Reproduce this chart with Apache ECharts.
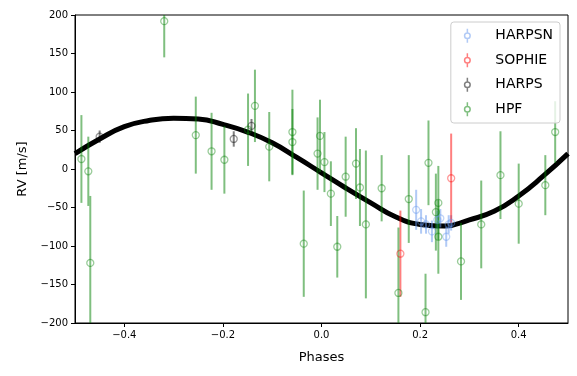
<!DOCTYPE html>
<html>
<head>
<meta charset="utf-8">
<script src="https://cdn.jsdelivr.net/npm/echarts@6/dist/echarts.min.js"></script>
<style>
  html, body { margin: 0; padding: 0; background: #fff; }
  #chart { width: 577px; height: 376px; }
</style>
</head>
<body>
<div id="chart"></div>
<script>
// model curve
const modelPhase = [-0.5, -0.45, -0.4, -0.35, -0.3, -0.25, -0.2, -0.15, -0.1, -0.05, 0, 0.05, 0.1, 0.15, 0.2, 0.25, 0.3, 0.35, 0.4, 0.45, 0.5];
const modelRv = [20, 39, 55, 63, 66, 65, 58, 48, 34, 15, -5, -25, -44, -62, -72, -74, -66, -55, -35, -9, 20];

// HARPSN
const harpsnPhase = [0.192, 0.202, 0.212, 0.224, 0.235, 0.241, 0.253, 0.258, 0.263];
const harpsnRv = [-53, -68, -72, -81, -66, -64, -88, -72, -70];
const harpsnErr = [26, 16, 12, 14, 12, 12, 13, 12, 10];

// SOPHIE
const sophiePhase = [0.16, 0.263];
const sophieRv = [-110, -12];
const sophieErr = [56, 58];

// HARPS
const harpsPhase = [-0.45, -0.178, -0.142];
const harpsRv = [42, 39, 56];
const harpsErr = [8, 10, 9];

// HPF
const hpfPhase = [-0.487, -0.473, -0.469, -0.319, -0.255, -0.223, -0.197, -0.149, -0.135, -0.106,
  -0.059, -0.059, -0.036, -0.008, -0.003, 0.006, 0.019, 0.032, 0.049, 0.07,
  0.078, 0.09, 0.122, 0.156, 0.177, 0.211, 0.217, 0.232, 0.237, 0.237,
  0.283, 0.324, 0.363, 0.4, 0.454, 0.474];
const hpfRv = [13, -3, -122, 192, 44, 23, 12, 51, 82, 29,
  48, 35, -97, 20, 43, 9, -32, -101, -10, 7,
  -24, -72, -25, -161, -39, -186, 8, -56, -44, -88,
  -120, -72, -8, -45, -21, 48];
const hpfErr = [57, 45, 87, 47, 50, 50, 44, 47, 47, 45,
  55, 43, 69, 47, 47, 39, 42, 40, 52, 46,
  50, 96, 43, 85, 57, 50, 55, 50, 48, 48,
  50, 57, 57, 52, 39, 40];

const xTicks = [-0.4, -0.2, 0, 0.2, 0.4];

const instruments = [
  { name: 'HARPSN', color: 'rgba(100,149,237,0.5)', phase: harpsnPhase, rv: harpsnRv, err: harpsnErr },
  { name: 'SOPHIE', color: 'rgba(255,0,0,0.5)', phase: sophiePhase, rv: sophieRv, err: sophieErr },
  { name: 'HARPS', color: 'rgba(0,0,0,0.5)', phase: harpsPhase, rv: harpsRv, err: harpsErr },
  { name: 'HPF', color: 'rgba(0,128,0,0.5)', phase: hpfPhase, rv: hpfRv, err: hpfErr }
];

const legendIcon = 'path://M0,-10 L0,-4 M4,0 A4,4 0 1,1 -4,0 A4,4 0 1,1 4,0 M0,4 L0,10';

const fmt = v => {
  const s = (Math.round(v * 10) / 10).toFixed(1);
  return s.replace('-', '\u2212');
};

const series = [
  {
    name: 'model',
    type: 'line',
    data: modelPhase.map((p, i) => [p, modelRv[i]]),
    smooth: true,
    showSymbol: false,
    lineStyle: { color: '#000', width: 5 },
    z: 1,
    silent: true
  }
];

instruments.forEach(ins => {
  const pts = ins.phase.map((p, i) => [p, ins.rv[i], ins.err[i]]);
  series.push({
    name: ins.name,
    type: 'custom',
    clip: true,
    data: pts,
    encode: { x: 0, y: 1 },
    z: 2,
    renderItem: (params, api) => {
      const x = api.value(0), y = api.value(1), e = api.value(2);
      const lo = api.coord([x, y - e]);
      const hi = api.coord([x, y + e]);
      return {
        type: 'line',
        shape: { x1: lo[0], y1: lo[1], x2: hi[0], y2: hi[1] },
        style: { stroke: ins.color, lineWidth: 2 }
      };
    }
  });
  series.push({
    name: ins.name,
    type: 'scatter',
    data: pts.map(d => [d[0], d[1]]),
    symbol: 'circle',
    symbolSize: 7,
    clip: true,
    z: 3,
    itemStyle: { color: 'rgba(0,0,0,0)', borderColor: ins.color, borderWidth: 1.3 }
  });
});

const chart = echarts.init(document.getElementById('chart'), null, { renderer: 'canvas' });

chart.setOption({
  animation: false,
  textStyle: { fontFamily: 'DejaVu Sans' },
  grid: {
    left: 75, right: 9, top: 15, bottom: 53,
    show: true, borderColor: '#000', borderWidth: 1, backgroundColor: 'transparent'
  },
  xAxis: {
    type: 'value',
    min: -0.5,
    max: 0.5,
    name: 'Phases',
    nameLocation: 'middle',
    nameGap: 28,
    nameTextStyle: { fontSize: 13, color: '#000' },
    axisLine: { show: true, onZero: false, lineStyle: { color: '#000' } },
    axisTick: { show: true, length: 4, lineStyle: { color: '#000' }, customValues: xTicks },
    axisLabel: { color: '#000', fontSize: 10, margin: 7, customValues: xTicks, formatter: fmt },
    splitLine: { show: false }
  },
  yAxis: {
    type: 'value',
    min: -200,
    max: 200,
    interval: 50,
    name: 'RV [m/s]',
    nameLocation: 'middle',
    nameGap: 46,
    nameTextStyle: { fontSize: 13, color: '#000' },
    axisLine: { show: true, onZero: false, lineStyle: { color: '#000' } },
    axisTick: { show: true, length: 4, lineStyle: { color: '#000' } },
    axisLabel: { color: '#000', fontSize: 10, margin: 7, formatter: v => String(v).replace('-', '\u2212') },
    splitLine: { show: false }
  },
  legend: {
    orient: 'vertical',
    right: 17,
    top: 22,
    padding: [6, 7, 6, 13],
    itemGap: 9,
    itemWidth: 14,
    itemHeight: 14,
    backgroundColor: 'rgba(255,255,255,0.8)',
    borderColor: '#cccccc',
    borderWidth: 1,
    borderRadius: 3,
    textStyle: { fontSize: 14, color: '#000', padding: [0, 0, 0, 16] },
    data: instruments.map(ins => ({
      name: ins.name,
      icon: legendIcon,
      itemStyle: { color: 'rgba(0,0,0,0)', borderColor: ins.color, borderWidth: 1.5 }
    }))
  },
  series: series
});
</script>
</body>
</html>
